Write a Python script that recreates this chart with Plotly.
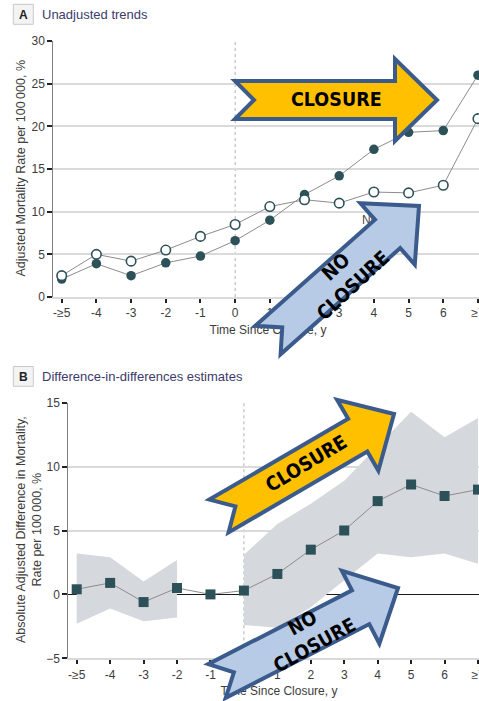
import math
import plotly.graph_objects as go

W, H = 479, 701

# ---- data -------------------------------------------------------------
periods = ["-≥5", "-4", "-3", "-2", "-1", "0", "1", "2", "3", "4", "5", "6", "≥7"]

# Panel A: unadjusted mortality per 100 000
closure_rate = [2.1, 3.9, 2.5, 4.0, 4.8, 6.6, 9.0, 12.0, 14.2, 17.3, 19.3, 19.5, 26.0]
no_closure_rate = [2.5, 5.0, 4.2, 5.5, 7.1, 8.5, 10.6, 11.4, 11.0, 12.3, 12.2, 13.1, 20.9]

# Panel B: difference-in-differences estimates with 95% CI
did_estimate = [0.4, 0.9, -0.6, 0.5, 0.0, 0.3, 1.6, 3.5, 5.0, 7.3, 8.6, 7.7, 8.2]
pre_ci_upper = [3.2, 2.9, 1.0, 2.7]
pre_ci_lower = [-2.3, -1.1, -2.1, -1.8]
post_ci_upper = [3.1, 5.5, 7.1, 8.9, 11.6, 14.3, 12.3, 13.8]
post_ci_lower = [-2.4, -2.6, -1.0, 1.1, 3.2, 2.9, 3.2, 2.4]

x_idx = list(range(len(periods)))
pre_idx = x_idx[:4]
post_idx = x_idx[5:]
closure_idx = periods.index("0")

# ---- styling ------------------------------------------------------------
FONT = "Liberation Sans, Arial, sans-serif"
BOLD = "Liberation Sans Narrow, Arial Narrow, DejaVu Sans Condensed, sans-serif"
TEXT = "#3c3c3c"
TEAL = "#2d5159"
LINE = "#8c8c8c"
GRID = "#dadada"
BAND = "#d5d8dc"
OUTLINE = "#3b5b8c"
YELLOW = "#ffc000"
LIGHTBLUE = "#b7cbe6"


def px(x):
    return x / W


def py(y):
    return 1 - y / H


def arrow_path(tail, tip, shaft=38, head=82, head_len=42, notch=19):
    """Block arrow with a notched tail, given in pixel space."""
    tx, ty = tail
    hx, hy = tip
    length = math.hypot(hx - tx, hy - ty)
    ux, uy = (hx - tx) / length, (hy - ty) / length
    nx, ny = -uy, ux
    local = [
        (0, -shaft / 2), (length - head_len, -shaft / 2), (length - head_len, -head / 2),
        (length, 0),
        (length - head_len, head / 2), (length - head_len, shaft / 2), (0, shaft / 2),
        (notch, 0),
    ]
    pts = [(tx + a * ux + b * nx, ty + a * uy + b * ny) for a, b in local]
    return "M " + " L ".join(f"{px(x):.5f},{py(y):.5f}" for x, y in pts) + " Z"


fig = go.Figure()

# ---- Panel A --------------------------------------------------------------
fig.add_trace(go.Scatter(
    x=x_idx, y=closure_rate, mode="lines+markers", xaxis="x", yaxis="y",
    line=dict(color=LINE, width=1),
    marker=dict(symbol="circle", size=9.5, color=TEAL, line=dict(width=0)),
    cliponaxis=False, showlegend=False, hoverinfo="skip"))
fig.add_trace(go.Scatter(
    x=x_idx, y=no_closure_rate, mode="lines+markers", xaxis="x", yaxis="y",
    line=dict(color=LINE, width=1),
    marker=dict(symbol="circle", size=9.5, color="white", line=dict(color=TEAL, width=1.6)),
    cliponaxis=False, showlegend=False, hoverinfo="skip"))
fig.add_trace(go.Scatter(
    x=[8.66], y=[8.9], mode="text", text=["No closure"], textposition="middle right",
    textfont=dict(family=FONT, size=12, color="#4a4a4a"), xaxis="x", yaxis="y",
    cliponaxis=False, showlegend=False, hoverinfo="skip"))

# ---- Panel B --------------------------------------------------------------
fig.add_trace(go.Scatter(
    x=pre_idx + pre_idx[::-1], y=pre_ci_upper + pre_ci_lower[::-1],
    fill="toself", fillcolor=BAND, line=dict(width=0), mode="lines",
    xaxis="x2", yaxis="y2", showlegend=False, hoverinfo="skip"))
fig.add_trace(go.Scatter(
    x=post_idx + post_idx[::-1], y=post_ci_upper + post_ci_lower[::-1],
    fill="toself", fillcolor=BAND, line=dict(width=0), mode="lines",
    xaxis="x2", yaxis="y2", showlegend=False, hoverinfo="skip"))
fig.add_trace(go.Scatter(
    x=x_idx, y=did_estimate, mode="lines+markers", xaxis="x2", yaxis="y2",
    line=dict(color=LINE, width=1),
    marker=dict(symbol="square", size=10, color=TEAL, line=dict(width=0)),
    cliponaxis=False, showlegend=False, hoverinfo="skip"))

# ---- x-axis titles on a full-page pixel canvas (kept beneath the arrows) ----
fig.add_trace(go.Scatter(
    x=[268, 279], y=[331, 692], mode="text",
    text=["Time Since Closure, y", "Time Since Closure, y"],
    textposition="middle center", textfont=dict(family=FONT, size=12, color=TEXT),
    xaxis="x3", yaxis="y3", cliponaxis=False, showlegend=False, hoverinfo="skip"))

# ---- axes ---------------------------------------------------------------
xcommon = dict(
    tickmode="array", tickvals=x_idx, ticktext=periods, ticks="outside", ticklen=4,
    tickwidth=1.5, tickcolor="#222", showgrid=False, zeroline=False, showline=True,
    linecolor=GRID, linewidth=2, tickfont=dict(family=FONT, size=12, color=TEXT),
    ticklabeloverflow="allow", automargin=False, fixedrange=True)
ycommon = dict(
    ticks="outside", ticklen=5, tickwidth=1.5, tickcolor="#222", showgrid=True,
    gridcolor=GRID, gridwidth=2, showline=True, linecolor="#7f7f7f", linewidth=1,
    tickfont=dict(family=FONT, size=12, color=TEXT), automargin=False, fixedrange=True)

fig.update_layout(
    width=W, height=H, margin=dict(l=0, r=0, t=0, b=0),
    paper_bgcolor="white", plot_bgcolor="rgba(0,0,0,0)",
    font=dict(family=FONT, color=TEXT),
    xaxis=dict(domain=[px(53.3), 1], anchor="y", range=[-0.2422, 12.03], **xcommon),
    yaxis=dict(domain=[py(297), py(41)], anchor="x", range=[0, 30],
               tickvals=[0, 5, 10, 15, 20, 25, 30], zeroline=False, **ycommon),
    xaxis2=dict(domain=[px(68.3), 1], anchor="y2", range=[-0.2512, 12.03], **xcommon),
    yaxis2=dict(domain=[py(658.3), py(402.7)], anchor="x2", range=[-5, 15],
                tickvals=[-5, 0, 5, 10, 15], zeroline=True, zerolinecolor="#1a1a1a",
                zerolinewidth=1, **ycommon),
    xaxis3=dict(domain=[0, 1], anchor="y3", range=[0, W], visible=False, fixedrange=True),
    yaxis3=dict(domain=[0, 1], anchor="x3", range=[H, 0], visible=False, fixedrange=True),
)

shapes = [
    # closure reference lines
    dict(type="line", xref="x", yref="y", x0=closure_idx, x1=closure_idx, y0=0, y1=30,
         line=dict(color="#b0b0b0", width=1, dash="dot"), layer="below"),
    dict(type="line", xref="x2", yref="y2", x0=closure_idx, x1=closure_idx, y0=-5, y1=15,
         line=dict(color="#b0b0b0", width=1, dash="dot"), layer="below"),
    # panel letter boxes
    dict(type="rect", xref="paper", yref="paper", x0=px(13.3), x1=px(33.3),
         y0=py(24.3), y1=py(4.3), fillcolor="#f3f3f3", line=dict(color="#c9c9c9", width=1)),
    dict(type="rect", xref="paper", yref="paper", x0=px(13.3), x1=px(33.3),
         y0=py(386.3), y1=py(366.5), fillcolor="#f3f3f3", line=dict(color="#c9c9c9", width=1)),
]

# block arrows (tail, tip, fill)
arrows = [
    ((235, 100), (437, 100), YELLOW),
    ((268, 340), (419, 206), LIGHTBLUE),
    ((219, 516), (394, 414), YELLOW),
    ((217, 681), (398, 588), LIGHTBLUE),
]
for tail, tip, fill in arrows:
    shapes.append(dict(type="path", xref="paper", yref="paper", path=arrow_path(tail, tip),
                       fillcolor=fill, line=dict(color=OUTLINE, width=4), layer="above"))
fig.update_layout(shapes=shapes)

ann = []


def note(x, y, text, size, color=TEXT, family=FONT, angle=0, xanchor="center"):
    ann.append(dict(x=px(x), y=py(y), xref="paper", yref="paper", text=text, showarrow=False,
                    font=dict(family=family, size=size, color=color), textangle=angle,
                    xanchor=xanchor, yanchor="middle", align="center"))


note(23.3, 14.6, "<b>A</b>", 12, color="#222")
note(40, 14.6, "Unadjusted trends", 13, color="#3d3b6b", xanchor="left")
note(23.3, 376.6, "<b>B</b>", 12, color="#222")
note(40, 376.6, "Difference-in-differences estimates", 13, color="#3d3b6b", xanchor="left")
note(20.5, 168, "Adjusted Mortality Rate per 100\u2009000, %", 12.5, angle=-90)
note(29, 530, "Absolute Adjusted Difference in Mortality,<br>Rate per 100\u2009000, %", 12.5, angle=-90)

# arrow captions
note(336.5, 99.5, "<b>CLOSURE</b>", 19.5, color="black", family=BOLD)
note(344.5, 276, "<b>NO<br>CLOSURE</b>", 19.5, color="black", family=BOLD, angle=-43)
note(306.5, 463.5, "<b>CLOSURE</b>", 19.5, color="black", family=BOLD, angle=-31)
note(308.5, 633.5, "<b>NO<br>CLOSURE</b>", 19.5, color="black", family=BOLD, angle=-29)

fig.update_layout(annotations=ann)

fig.write_html("out.html")
